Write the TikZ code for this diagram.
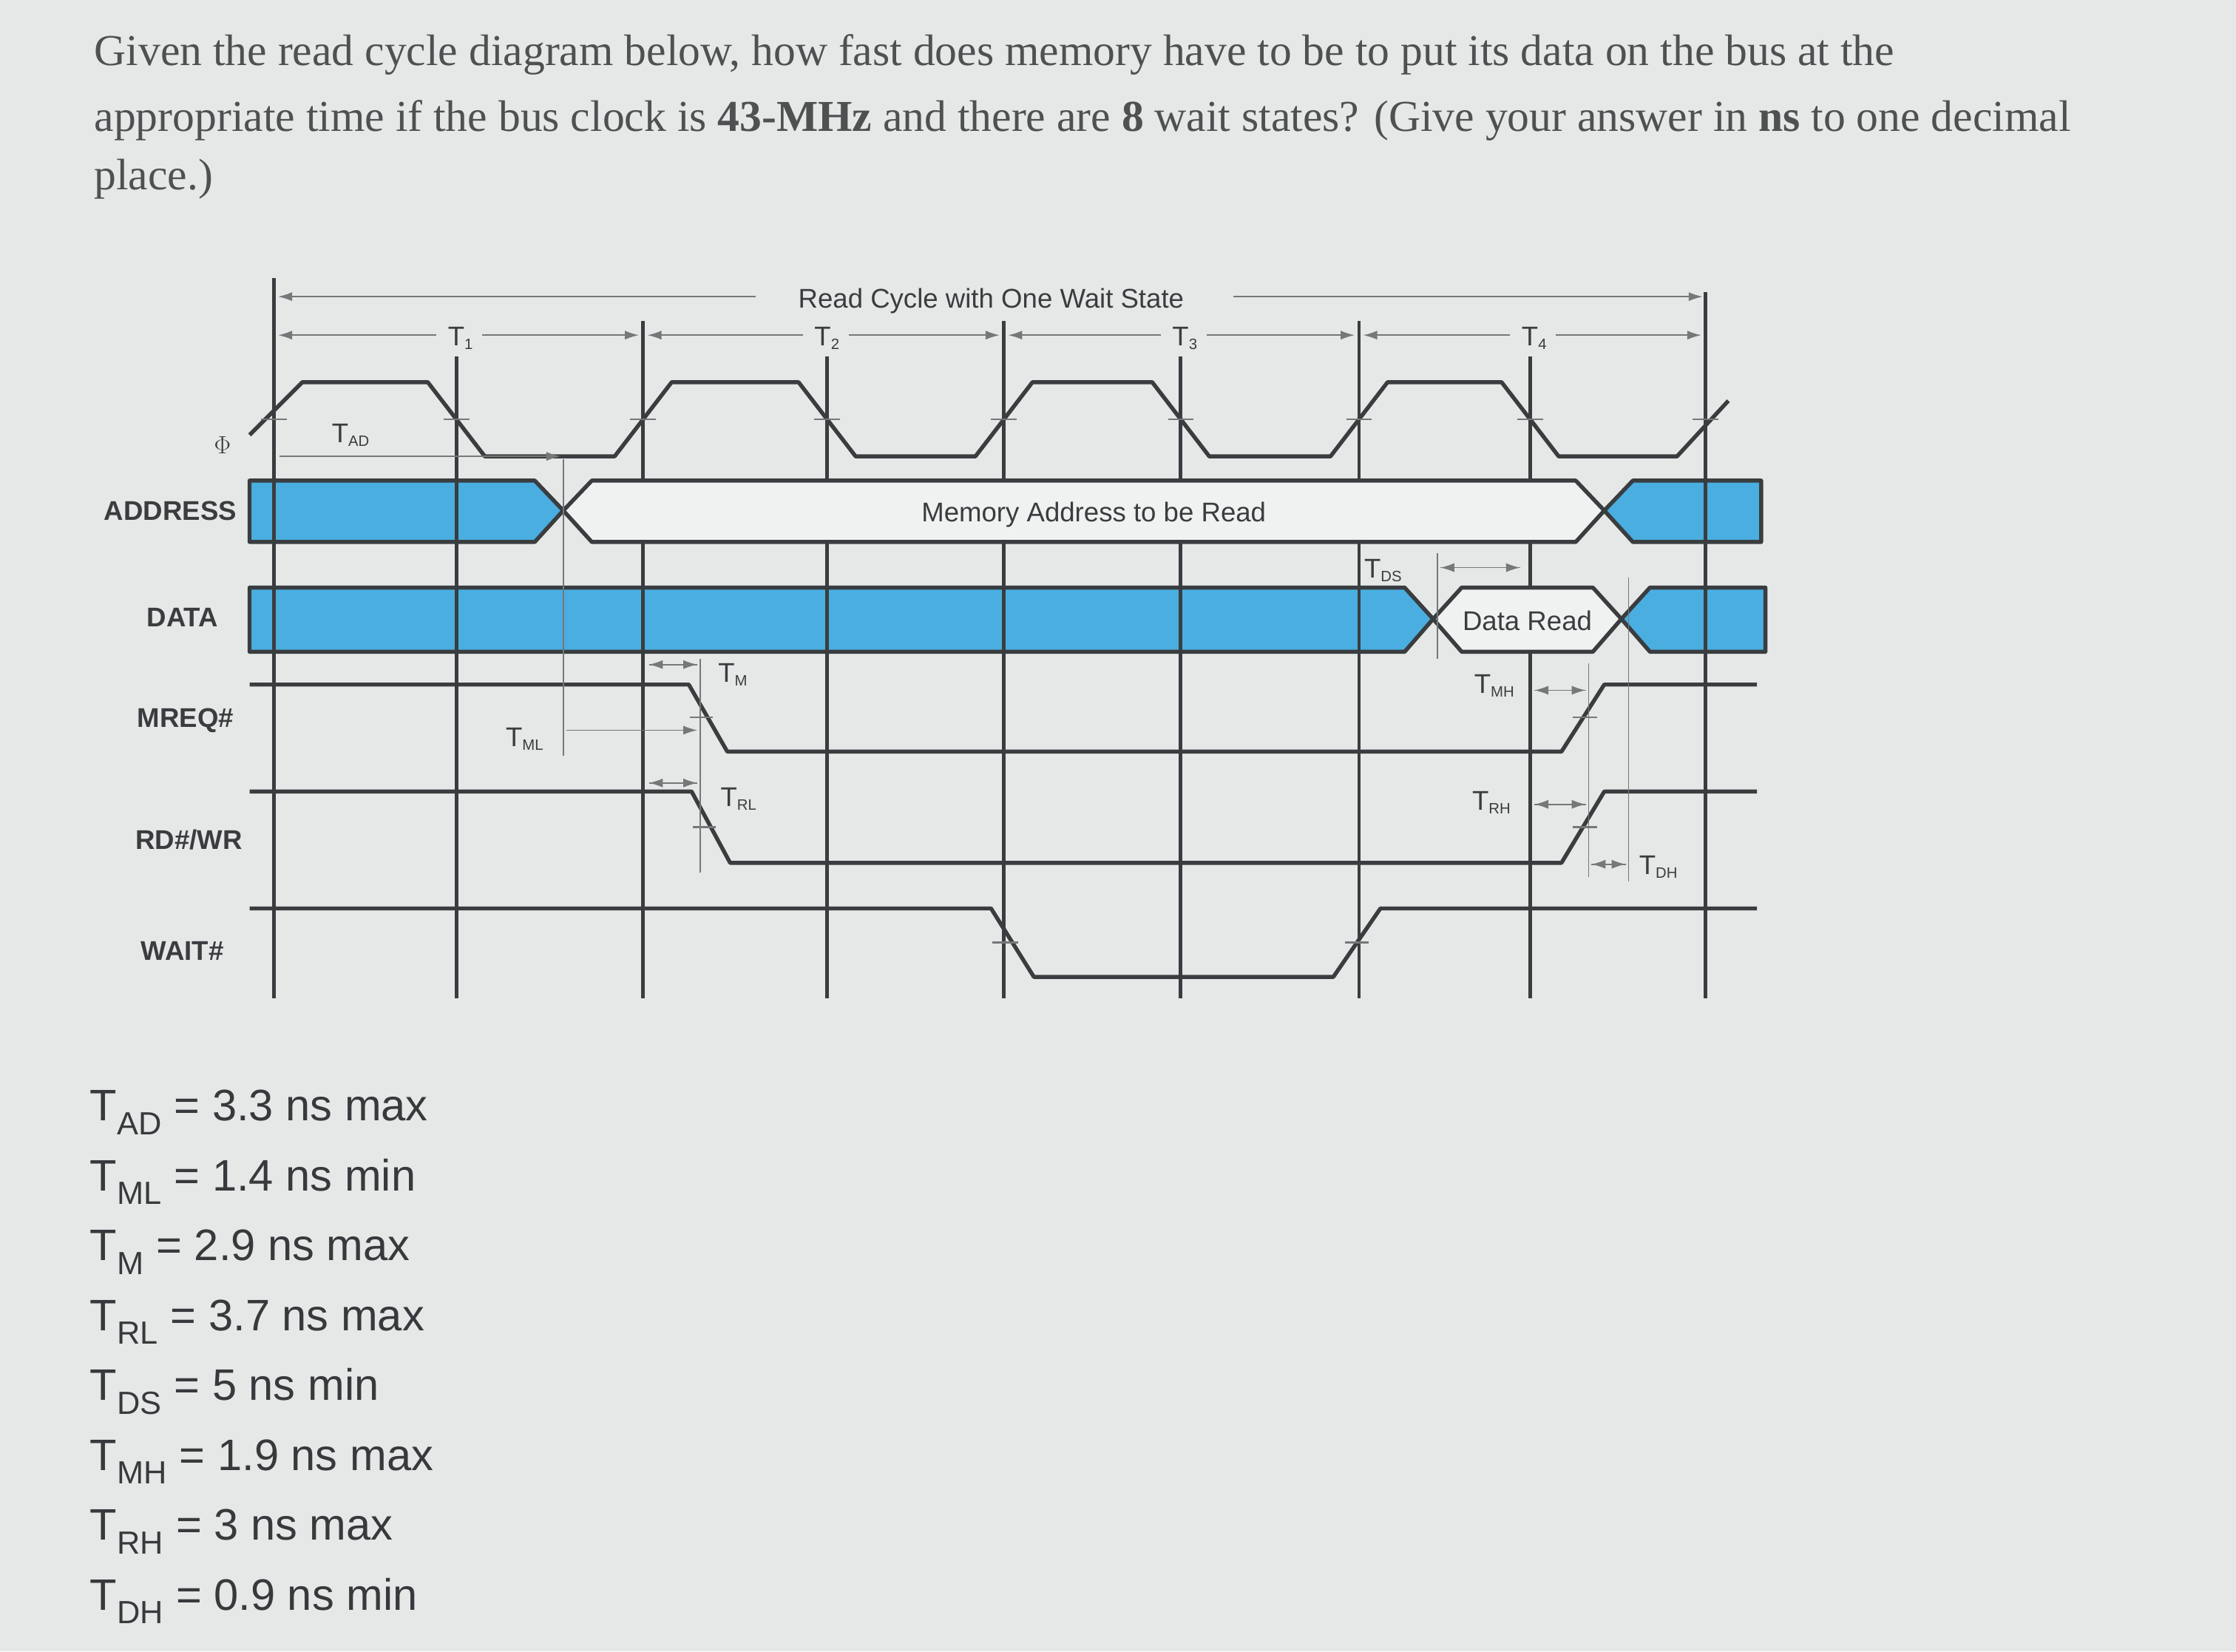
\documentclass[tikz,border=0pt]{standalone}
\usepackage{fontspec}
\setmainfont{Liberation Serif}
\setsansfont{Liberation Sans}
\usetikzlibrary{arrows.meta}
\definecolor{bg}{HTML}{E6E8E8}
\definecolor{ink}{HTML}{3A3D3F}
\definecolor{busblue}{HTML}{4AAEE0}
\tikzset{
  sig/.style={draw=ink,line width=4pt,line join=round},
  vline/.style={draw=ink,line width=3.6pt},
  thin/.style={draw=ink!70,line width=1.3pt},
  dim/.style={draw=ink!70,line width=1.3pt,-{Latex[length=14pt,width=9pt]}},
  busb/.style={fill=busblue,draw=ink,line width=4pt,line join=round},
  busw/.style={fill=bg!60!white,draw=ink,line width=4pt,line join=round},
  lbl/.style={font=\sffamily\bfseries\fontsize{27}{29}\selectfont,text=ink,anchor=east,inner sep=0},
  tl/.style={font=\sffamily\fontsize{27}{29}\selectfont,text=ink,inner sep=0},
  q/.style={font=\fontsize{44}{50}\selectfont,text=ink!90,anchor=base west,inner sep=0},
  eq/.style={font=\sffamily\fontsize{44}{50}\selectfont,text=ink!95!black,anchor=base west,inner sep=0}
}
\newcommand{\mysub}[1]{\textsubscript{\fontsize{15}{15}\selectfont #1}}
\begin{document}
\begin{tikzpicture}[x=0.05cm,y=-0.05cm]
\fill[bg] (0,0) rectangle (1568,1158);
\useasboundingbox (0,0) rectangle (1568,1158);
% question
\node[q] (q1) at (66,46) {Given the read cycle diagram below, how fast does memory have to be to put its data on the bus at the};
\node[q] (q2) at (66,92) {appropriate time if the bus clock is \textbf{43-MHz} and there are \textbf{8} wait states? (Give your answer in \textbf{ns} to one decimal};
\node[q] (q3) at (66,133) {place.)};
% blue buses
\path[busb] (175,337)--(375,337)--(395,358)--(375,380)--(175,380)--cycle;
\path[busb] (1125,358)--(1145,337)--(1235,337)--(1235,380)--(1145,380)--cycle;
\path[busb] (175,412)--(985,412)--(1005,434)--(985,457)--(175,457)--cycle;
\path[busb] (1137,434)--(1157,412)--(1238,412)--(1238,457)--(1157,457)--cycle;
% vertical clock lines
\foreach \x/\t in {192/195,451/225,704/225,953/225,1196/205,320/250,580/250,828/250,1073/250}
  \draw[vline] (\x,\t)--(\x,700);
% white buses
\path[busw] (395,358)--(415,337)--(1105,337)--(1125,358)--(1105,380)--(415,380)--cycle;
\path[busw] (1005,434)--(1025,412)--(1117,412)--(1137,434)--(1117,457)--(1025,457)--cycle;
\node[tl] (mem) at (767,361) {Memory Address to be Read};
\node[tl] (dr) at (1071,435) {Data Read};
% clock
\draw[sig] (175,305)--(212,268)--(300,268)--(340,320)--(431,320)--(471,268)--(560,268)--(600,320)--(684,320)--(724,268)--(808,268)--(848,320)--(933,320)--(973,268)--(1053,268)--(1093,320)--(1176,320)--(1212,281);
\foreach \x in {192,320,451,580,704,828,953,1073,1196}
  \draw[thin,line width=2pt] (\x-9,294)--(\x+9,294);
% control signals
\draw[sig] (175,480)--(483,480)--(510,527)--(1095,527)--(1125,480)--(1232,480);
\draw[sig] (175,555)--(485,555)--(512,605)--(1095,605)--(1125,555)--(1232,555);
\draw[sig] (175,637)--(695,637)--(725,685)--(935,685)--(968,637)--(1232,637);
\draw[thin,line width=2pt] (484,503)--(500,503) (486,580)--(502,580) (1103,503)--(1120,503) (1103,580)--(1120,580) (696,661)--(714,661) (943,661)--(960,661);
% signal labels
\node[lbl,font=\fontsize{24}{26}\selectfont] (phi) at (162,312) {$\Phi$};
\node[lbl] (la) at (166,358) {ADDRESS};
\node[lbl] (ld) at (153,433) {DATA};
\node[lbl] (lm) at (164,505) {MREQ\#};
\node[lbl] (lr) at (170,589) {RD\#/WR};
\node[lbl] (lw) at (157,667) {WAIT\#};
% top dimension lines
\node[tl] (rc) at (695,211) {Read Cycle with One Wait State};
\draw[dim] (530,208)--(195,208);
\draw[dim] (865,208)--(1194,208);
\foreach \a/\b/\c/\n in {192/451/320/1,451/704/577/2,704/953/828/3,953/1196/1073/4}{
  \draw[dim] (\c-14,235)--(\a+3,235);
  \draw[dim] (\c+18,235)--(\b-3,235);
  \node[tl] (t\n) at (\c+3,237) {T\mysub{\n}};
}
% timing parameters
\node[tl] (tad) at (246,305) {T\mysub{AD}};
\draw[dim] (196,320)--(393,320);
\draw[thin] (395,322)--(395,530);
\node[tl] (tml) at (368,518) {T\mysub{ML}};
\draw[dim] (397,512)--(489,512);
\draw[thin] (491,462)--(491,612);
\node[tl] (tm) at (514,473) {T\mysub{M}};
\draw[dim] (455,466)--(489,466);\draw[dim] (489,466)--(455,466);
\node[tl] (trl) at (518,560) {T\mysub{RL}};
\draw[dim] (455,549)--(489,549);\draw[dim] (489,549)--(455,549);
\draw[thin] (1008,388)--(1008,462);
\node[tl] (tds) at (970,400) {T\mysub{DS}};
\draw[dim] (1010,398)--(1066,398);\draw[dim] (1066,398)--(1010,398);
\draw[thin] (1114,465)--(1114,615);
\draw[thin] (1142,405)--(1142,618);
\node[tl] (tmh) at (1048,481) {T\mysub{MH}};
\draw[dim] (1076,484)--(1112,484);\draw[dim] (1112,484)--(1076,484);
\node[tl] (trh) at (1046,563) {T\mysub{RH}};
\draw[dim] (1076,564)--(1112,564);\draw[dim] (1112,564)--(1076,564);
\node[tl] (tdh) at (1163,608) {T\mysub{DH}};
\draw[dim] (1116,606)--(1140,606);\draw[dim] (1140,606)--(1116,606);
% equations
\foreach \n/\s/\v [count=\i from 0] in {a/AD/3.3 ns max,b/ML/1.4 ns min,c/M/2.9 ns max,d/RL/3.7 ns max,e/DS/5 ns min,f/MH/1.9 ns max,g/RH/3 ns max,h/DH/0.9 ns min}
  \node[eq] (e\n) at (63,786+49*\i) {T\textsubscript{\fontsize{32}{32}\selectfont\s} = \v};
\end{tikzpicture}
\end{document}
